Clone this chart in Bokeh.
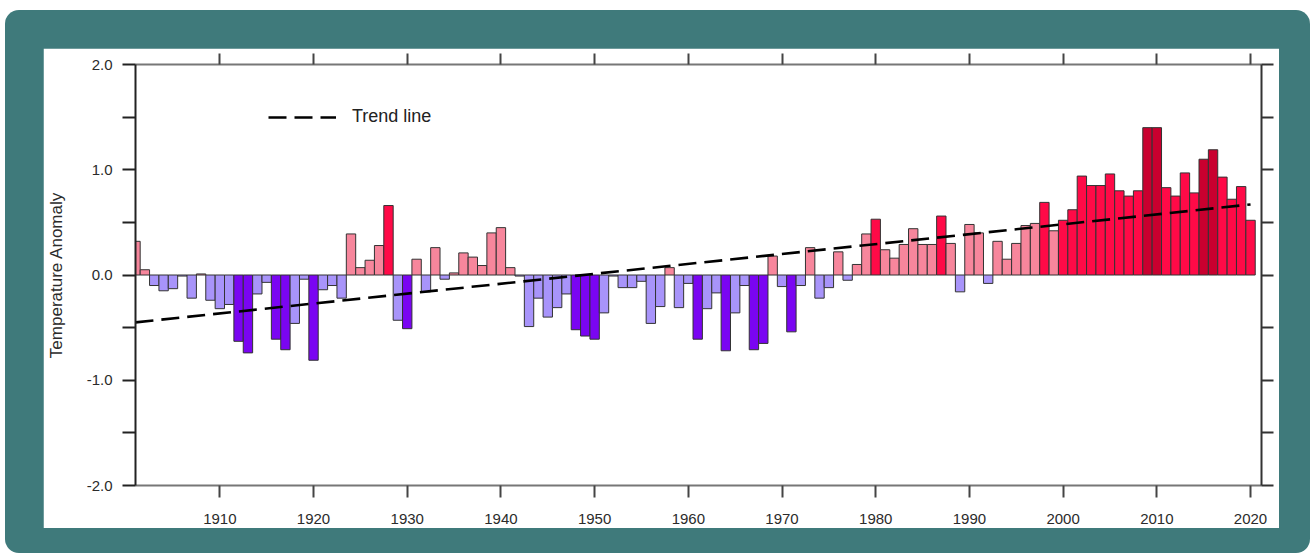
from bokeh.plotting import figure
from bokeh.models import (Range1d, LinearAxis, FixedTicker, Legend, LegendItem,
                          ColumnDataSource, PrintfTickFormatter, CustomLabelingPolicy)
from bokeh.layouts import column
from bokeh.embed import file_html
from bokeh.resources import INLINE

# ---------------- data ----------------
years = list(range(1901, 2021))
anomaly = [
    0.32, 0.05, -0.10, -0.15, -0.13, -0.01, -0.22, 0.01, -0.24,          # 1901-1909
    -0.32, -0.28, -0.63, -0.74, -0.18, -0.07, -0.61, -0.71, -0.46, -0.04,  # 1910-1919
    -0.81, -0.14, -0.10, -0.22, 0.39, 0.07, 0.14, 0.28, 0.66, -0.43,       # 1920-1929
    -0.51, 0.15, -0.16, 0.26, -0.04, 0.02, 0.21, 0.17, 0.09, 0.40,         # 1930-1939
    0.45, 0.07, -0.01, -0.49, -0.22, -0.40, -0.31, -0.18, -0.52, -0.58,    # 1940-1949
    -0.61, -0.36, -0.01, -0.12, -0.12, -0.06, -0.46, -0.30, 0.07, -0.31,   # 1950-1959
    -0.08, -0.61, -0.32, -0.17, -0.72, -0.36, -0.10, -0.71, -0.65, 0.18,   # 1960-1969
    -0.11, -0.54, -0.10, 0.26, -0.22, -0.12, 0.22, -0.05, 0.10, 0.39,      # 1970-1979
    0.53, 0.24, 0.16, 0.29, 0.44, 0.29, 0.29, 0.56, 0.30, -0.16,           # 1980-1989
    0.48, 0.40, -0.08, 0.32, 0.15, 0.30, 0.47, 0.49, 0.69, 0.42,           # 1990-1999
    0.52, 0.62, 0.94, 0.85, 0.85, 0.96, 0.80, 0.75, 0.80, 1.40,            # 2000-2009
    1.40, 0.83, 0.75, 0.97, 0.78, 1.10, 1.19, 0.93, 0.72, 0.84,            # 2010-2019
    0.52,                                                                  # 2020
]
trend_years = [1901, 2020]
trend_values = [-0.45, 0.67]

x_ticks = [1910, 1920, 1930, 1940, 1950, 1960, 1970, 1980, 1990, 2000, 2010, 2020]
x_tick_labels = ["1910", "1920", "1930", "1940", "1950", "1960", "1970", "1980",
                 "1990", "2000", "2010", "2020"]
y_ticks = [-2.0, -1.0, 0.0, 1.0, 2.0]
y_tick_labels = ["-2.0", "-1.0", "0.0", "1.0", "2.0"]
y_minor_ticks = [-1.5, -0.5, 0.5, 1.5]
y_right_ticks = [-2.0, -1.5, -1.0, -0.5, 0.0, 0.5, 1.0, 1.5, 2.0]

# colour classes
DARK_PURPLE = "#7A05F2"
LIGHT_PURPLE = "#A894FA"
PINK = "#F7869C"
RED = "#FF0A47"
DARK_RED = "#C9002F"


def klass(v):
    if v <= -0.5:
        return DARK_PURPLE
    if v < 0:
        return LIGHT_PURPLE
    if v < 0.5:
        return PINK
    if v < 1.0:
        return RED
    return DARK_RED


src = ColumnDataSource(dict(year=years, value=anomaly,
                            color=[klass(v) for v in anomaly]))

FONT = "Liberation Sans"
TXT = "#2b2b2b"
NO_LABELS = CustomLabelingPolicy(code="return []")

p = figure(width=1236, height=480, output_backend="svg", toolbar_location=None,
           x_range=Range1d(1901.0, 2021.17), y_range=Range1d(-2.0, 2.0),
           min_border_left=92, min_border_right=18, min_border_top=16,
           min_border_bottom=43, background_fill_color="white",
           border_fill_color="white", outline_line_color=None,
           x_axis_location=None, y_axis_location=None)
p.grid.visible = False

bars = p.vbar(x="year", top="value", bottom=0, width=1.0, source=src,
              fill_color="color", line_color="#333333", line_width=1)

trend = p.line(trend_years, trend_values, line_color="black", line_width=2.6,
               line_dash="18 8")

# left axis
left = LinearAxis(ticker=FixedTicker(ticks=y_ticks, minor_ticks=y_minor_ticks),
                  formatter=PrintfTickFormatter(format="%.1f"),
                  major_label_overrides=dict(zip(y_ticks, y_tick_labels)),
                  axis_label="Temperature Anomaly",
                  axis_label_text_font=FONT, axis_label_text_font_size="17px",
                  axis_label_text_font_style="normal", axis_label_text_color=TXT,
                  axis_label_standoff=18,
                  major_label_text_font=FONT, major_label_text_font_size="15px",
                  major_label_text_color=TXT, major_label_standoff=10,
                  major_tick_in=0, major_tick_out=13, minor_tick_in=0, minor_tick_out=13,
                  axis_line_color="#222222", axis_line_width=2,
                  major_tick_line_color="#222222", major_tick_line_width=2,
                  minor_tick_line_color="#222222", minor_tick_line_width=2)
p.add_layout(left, "left")

# right axis (ticks only)
right = LinearAxis(ticker=FixedTicker(ticks=y_right_ticks, minor_ticks=[]),
                   major_label_policy=NO_LABELS,
                   major_label_text_font_size="1px", major_label_standoff=0,
                   major_tick_in=0, major_tick_out=12, minor_tick_out=0, minor_tick_in=0,
                   axis_line_color="#333333", axis_line_width=2,
                   major_tick_line_color="#333333", major_tick_line_width=2)
p.add_layout(right, "right")

# top axis (ticks only)
top = LinearAxis(ticker=FixedTicker(ticks=x_ticks, minor_ticks=[]),
                 major_label_policy=NO_LABELS,
                 major_label_text_font_size="1px", major_label_standoff=0,
                 major_tick_in=0, major_tick_out=11, minor_tick_out=0, minor_tick_in=0,
                 axis_line_color="#777777", axis_line_width=2,
                 major_tick_line_color="#444444", major_tick_line_width=2)
p.add_layout(top, "above")

# bottom axis
bottom = LinearAxis(ticker=FixedTicker(ticks=x_ticks, minor_ticks=[]),
                    major_label_overrides=dict(zip(x_ticks, x_tick_labels)),
                    major_label_text_font=FONT, major_label_text_font_size="15px",
                    major_label_text_color=TXT, major_label_standoff=16,
                    major_tick_in=0, major_tick_out=12, minor_tick_out=0, minor_tick_in=0,
                    axis_line_color="#777777", axis_line_width=2,
                    major_tick_line_color="#444444", major_tick_line_width=2)
p.add_layout(bottom, "below")

legend = Legend(items=[LegendItem(label="Trend line", renderers=[trend])],
                location=(133, 358), padding=0, margin=0, spacing=0,
                glyph_width=68, glyph_height=20, label_standoff=16,
                label_text_font=FONT, label_text_font_size="18px",
                label_text_color="#222222", border_line_color=None,
                background_fill_alpha=0)
p.add_layout(legend)

layout = column(p, styles={"background-color": "#3F7A7B", "border-radius": "14px",
                           "padding": "38px 31px 25px 38px", "margin-left": "5px",
                           "margin-top": "10px"})

with open("out.html", "w") as f:
    f.write(file_html(layout, INLINE))
